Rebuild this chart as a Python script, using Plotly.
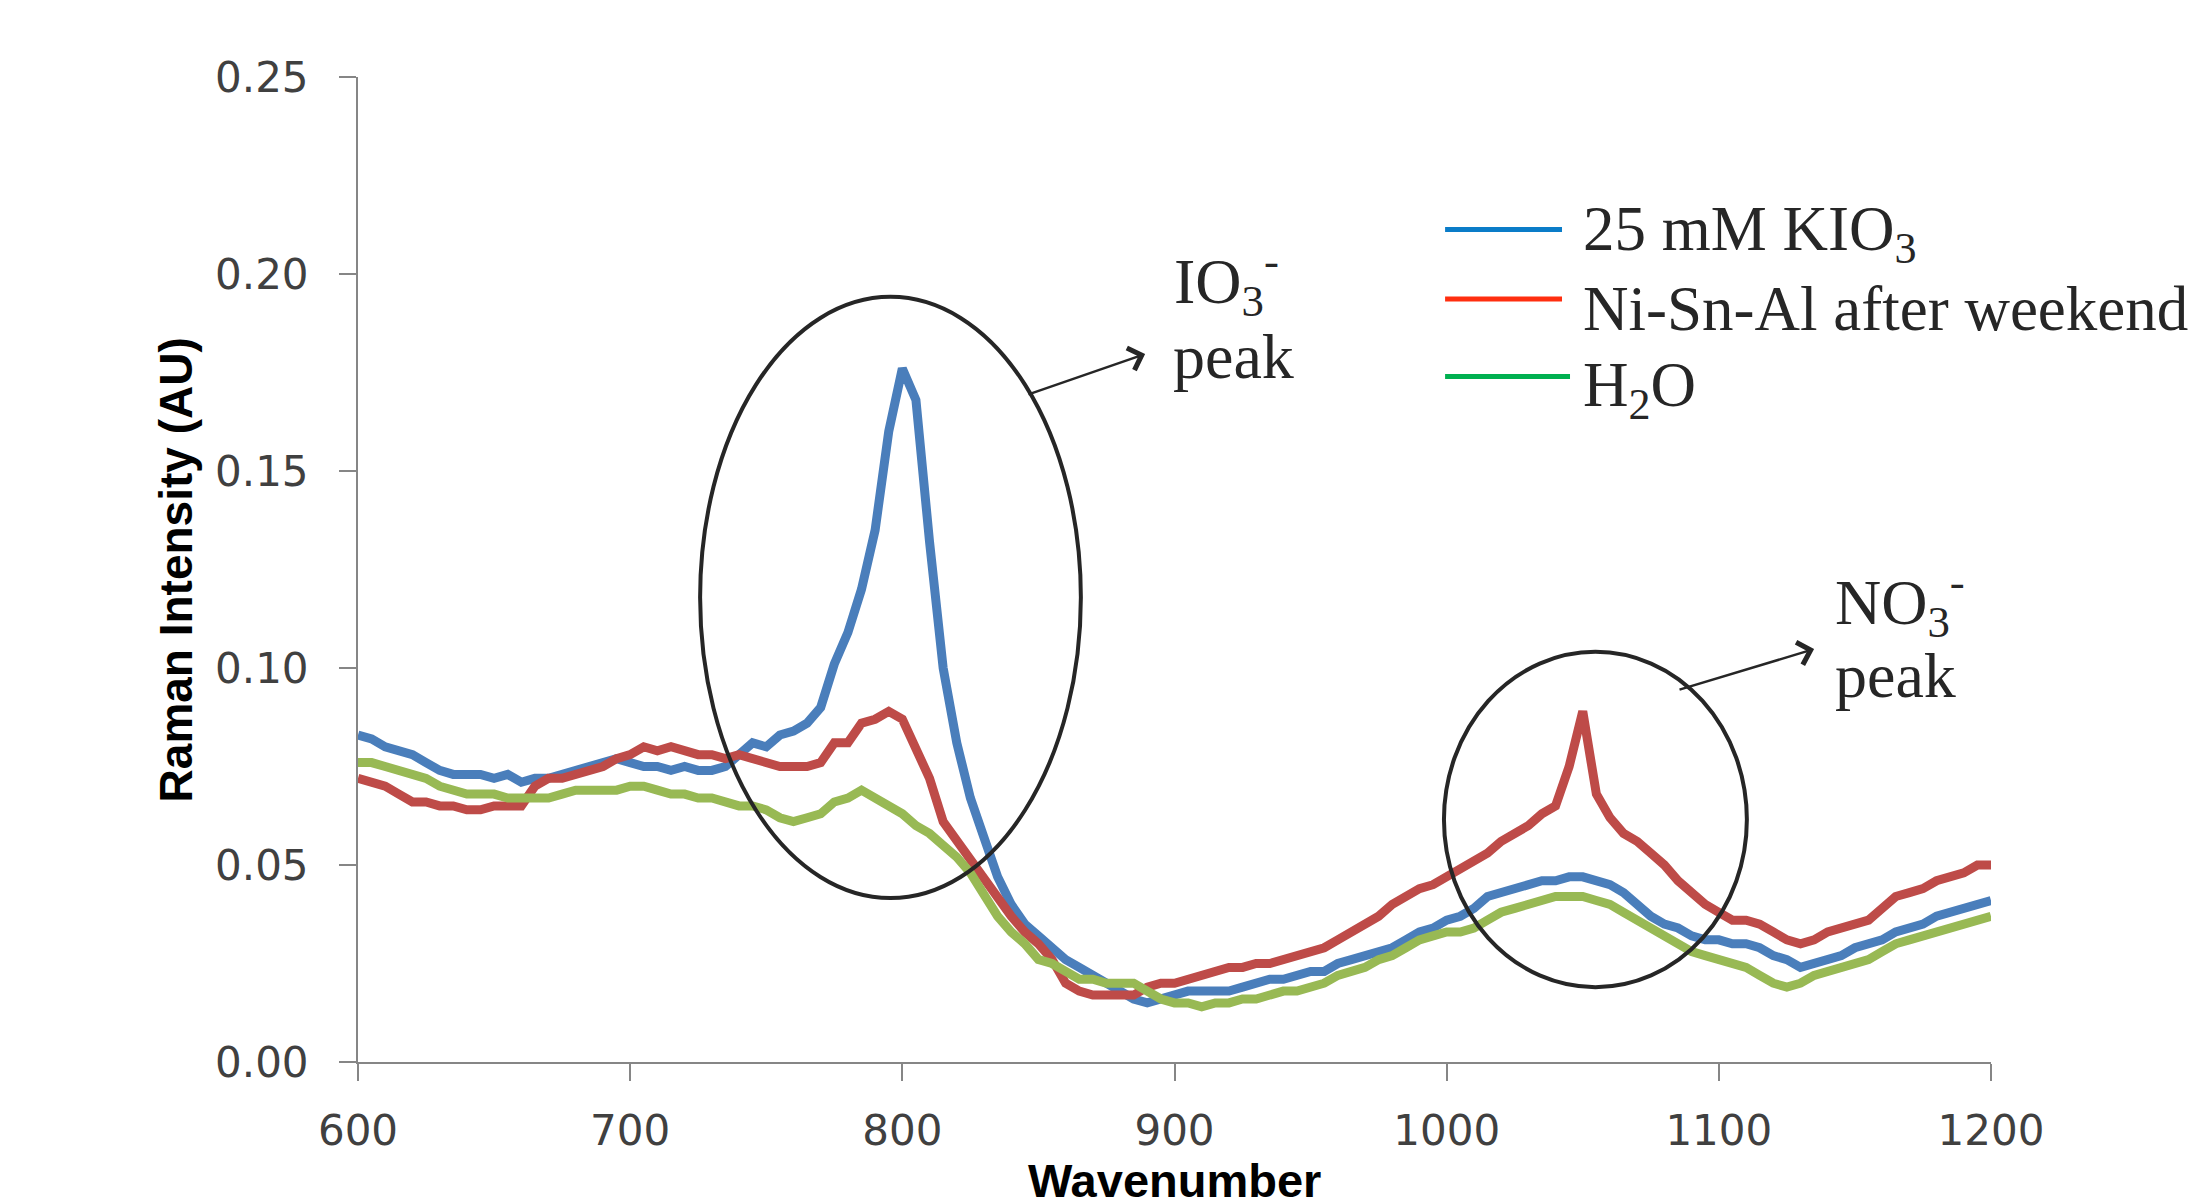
import plotly.graph_objects as go

# ---------------- data ----------------
wavenumber = [
    600, 605, 610, 615, 620, 625, 630, 635, 640, 645,
    650, 655, 660, 665, 670, 675, 680, 685, 690, 695,
    700, 705, 710, 715, 720, 725, 730, 735, 740, 745,
    750, 755, 760, 765, 770, 775, 780, 785, 790, 795,
    800, 805, 810, 815, 820, 825, 830, 835, 840, 845,
    850, 855, 860, 865, 870, 875, 880, 885, 890, 895,
    900, 905, 910, 915, 920, 925, 930, 935, 940, 945,
    950, 955, 960, 965, 970, 975, 980, 985, 990, 995,
    1000, 1005, 1010, 1015, 1020, 1025, 1030, 1035, 1040, 1045,
    1050, 1055, 1060, 1065, 1070, 1075, 1080, 1085, 1090, 1095,
    1100, 1105, 1110, 1115, 1120, 1125, 1130, 1135, 1140, 1145,
    1150, 1155, 1160, 1165, 1170, 1175, 1180, 1185, 1190, 1195,
    1200,
]

kio3 = [
    0.083, 0.082, 0.080, 0.079, 0.078, 0.076, 0.074, 0.073, 0.073, 0.073,
    0.072, 0.073, 0.071, 0.072, 0.072, 0.073, 0.074, 0.075, 0.076, 0.077,
    0.076, 0.075, 0.075, 0.074, 0.075, 0.074, 0.074, 0.075, 0.078, 0.081,
    0.080, 0.083, 0.084, 0.086, 0.090, 0.101, 0.109, 0.120, 0.135, 0.160,
    0.176, 0.168, 0.132, 0.100, 0.081, 0.067, 0.057, 0.047, 0.040, 0.035,
    0.032, 0.029, 0.026, 0.024, 0.022, 0.020, 0.018, 0.016, 0.015, 0.016,
    0.017, 0.018, 0.018, 0.018, 0.018, 0.019, 0.020, 0.021, 0.021, 0.022,
    0.023, 0.023, 0.025, 0.026, 0.027, 0.028, 0.029, 0.031, 0.033, 0.034,
    0.036, 0.037, 0.039, 0.042, 0.043, 0.044, 0.045, 0.046, 0.046, 0.047,
    0.047, 0.046, 0.045, 0.043, 0.040, 0.037, 0.035, 0.034, 0.032, 0.031,
    0.031, 0.030, 0.030, 0.029, 0.027, 0.026, 0.024, 0.025, 0.026, 0.027,
    0.029, 0.030, 0.031, 0.033, 0.034, 0.035, 0.037, 0.038, 0.039, 0.040,
    0.041,
]

nisnal = [
    0.072, 0.071, 0.070, 0.068, 0.066, 0.066, 0.065, 0.065, 0.064, 0.064,
    0.065, 0.065, 0.065, 0.070, 0.072, 0.072, 0.073, 0.074, 0.075, 0.077,
    0.078, 0.080, 0.079, 0.080, 0.079, 0.078, 0.078, 0.077, 0.078, 0.077,
    0.076, 0.075, 0.075, 0.075, 0.076, 0.081, 0.081, 0.086, 0.087, 0.089,
    0.087, 0.080, 0.072, 0.061, 0.056, 0.052, 0.047, 0.041, 0.037, 0.033,
    0.030, 0.026, 0.020, 0.018, 0.017, 0.017, 0.017, 0.017, 0.019, 0.020,
    0.020, 0.021, 0.022, 0.023, 0.024, 0.024, 0.025, 0.025, 0.026, 0.027,
    0.028, 0.029, 0.031, 0.033, 0.035, 0.037, 0.040, 0.042, 0.044, 0.045,
    0.047, 0.049, 0.051, 0.053, 0.056, 0.058, 0.060, 0.063, 0.065, 0.075,
    0.089, 0.068, 0.062, 0.058, 0.056, 0.053, 0.050, 0.046, 0.043, 0.040,
    0.038, 0.036, 0.036, 0.035, 0.033, 0.031, 0.030, 0.031, 0.033, 0.034,
    0.035, 0.036, 0.039, 0.042, 0.043, 0.044, 0.046, 0.047, 0.048, 0.050,
    0.050,
]

water = [
    0.076, 0.076, 0.075, 0.074, 0.073, 0.072, 0.070, 0.069, 0.068, 0.068,
    0.068, 0.067, 0.067, 0.067, 0.067, 0.068, 0.069, 0.069, 0.069, 0.069,
    0.070, 0.070, 0.069, 0.068, 0.068, 0.067, 0.067, 0.066, 0.065, 0.065,
    0.064, 0.062, 0.061, 0.062, 0.063, 0.066, 0.067, 0.069, 0.067, 0.065,
    0.063, 0.060, 0.058, 0.055, 0.052, 0.048, 0.042, 0.037, 0.033, 0.030,
    0.026, 0.025, 0.023, 0.021, 0.021, 0.020, 0.020, 0.020, 0.018, 0.016,
    0.015, 0.015, 0.014, 0.015, 0.015, 0.016, 0.016, 0.017, 0.018, 0.018,
    0.019, 0.020, 0.022, 0.023, 0.024, 0.026, 0.027, 0.029, 0.031, 0.032,
    0.033, 0.033, 0.034, 0.036, 0.038, 0.039, 0.040, 0.041, 0.042, 0.042,
    0.042, 0.041, 0.040, 0.038, 0.036, 0.034, 0.032, 0.030, 0.028, 0.027,
    0.026, 0.025, 0.024, 0.022, 0.020, 0.019, 0.020, 0.022, 0.023, 0.024,
    0.025, 0.026, 0.028, 0.030, 0.031, 0.032, 0.033, 0.034, 0.035, 0.036,
    0.037,
]

series_names = ["25 mM KIO<sub>3</sub>", "Ni-Sn-Al after weekend", "H<sub>2</sub>O"]
line_colors = ["#4A7EBB", "#BE4B48", "#98B954"]
legend_colors = ["#0A7CC8", "#FF2E0F", "#00B050"]

x_ticks = [600, 700, 800, 900, 1000, 1100, 1200]
y_ticks = [0.00, 0.05, 0.10, 0.15, 0.20, 0.25]

# ---------------- figure ----------------
fig = go.Figure()
for name, ys, col in zip(series_names, [kio3, nisnal, water], line_colors):
    fig.add_trace(go.Scatter(
        x=wavenumber, y=ys, mode="lines", name=name,
        line=dict(color=col, width=9), showlegend=False,
    ))

AX = "#868686"
TICKFONT = dict(family="DejaVu Sans", size=42, color="#404040")
fig.update_layout(
    width=2188, height=1189,
    margin=dict(l=350, r=205, t=69, b=135),
    paper_bgcolor="white", plot_bgcolor="white",
    xaxis=dict(range=[600, 1200], tickvals=x_ticks, showgrid=False, zeroline=False,
               showline=True, linecolor=AX, linewidth=2,
               ticks="outside", ticklen=17, tickwidth=2, tickcolor=AX,
               tickfont=TICKFONT, ticklabelstandoff=14),
    yaxis=dict(range=[0, 0.25], tickvals=y_ticks, tickformat=".2f",
               showgrid=False, zeroline=False,
               showline=True, linecolor=AX, linewidth=2,
               ticks="outside", ticklen=17, tickwidth=2, tickcolor=AX,
               tickfont=TICKFONT, ticklabelstandoff=22),
)

fig.add_annotation(text="<b>Raman Intensity (AU)</b>", xref="paper", yref="paper",
                   x=-0.1115, y=0.5, textangle=-90, showarrow=False,
                   xanchor="center", yanchor="middle",
                   font=dict(family="Liberation Sans", size=46, color="#000000"))
fig.add_annotation(text="<b>Wavenumber</b>", xref="paper", yref="paper",
                   x=0.5, y=-0.1198, showarrow=False,
                   xanchor="center", yanchor="middle",
                   font=dict(family="Liberation Sans", size=47, color="#000000"))

# ellipses around peaks
ELL = "#262626"
fig.add_shape(type="circle", xref="x", yref="y", x0=725.7, x1=865.6, y0=0.0416, y1=0.1942,
              line=dict(color=ELL, width=4))
fig.add_shape(type="circle", xref="x", yref="y", x0=999.0, x1=1110.3, y0=0.0190, y1=0.1041,
              line=dict(color=ELL, width=4))

# arrows
for (tx, ty, hx, hy) in [(845.8, 0.1693, 889.2, 0.1797), (1085.0, 0.0944, 1135.0, 0.1048)]:
    fig.add_annotation(x=hx, y=hy, ax=tx, ay=ty, xref="x", yref="y", axref="x", ayref="y",
                       text="", showarrow=True, arrowhead=4, arrowsize=1.8,
                       arrowwidth=2.5, arrowcolor=ELL)

SERIF = dict(family="Liberation Serif", size=64, color="#262626")
for txt, x, y in [("IO<sub>3</sub><sup>-</sup>", 0.4985, 0.7924), ("peak", 0.4979, 0.7162),
                  ("NO<sub>3</sub><sup>-</sup>", 0.9033, 0.4675), ("peak", 0.9033, 0.3924)]:
    fig.add_annotation(text=txt, xref="paper", yref="paper", x=x, y=y, showarrow=False,
                       xanchor="left", yanchor="middle", font=SERIF)

# custom legend
leg_line_y = [0.8452, 0.7746, 0.6959]
leg_line_x1 = [0.7373, 0.7373, 0.7422]
leg_text_y = [0.8411, 0.7640, 0.6827]
for name, col, ly, lx1, ty in zip(series_names, legend_colors, leg_line_y, leg_line_x1, leg_text_y):
    fig.add_shape(type="line", xref="paper", yref="paper", x0=0.6657, x1=lx1, y0=ly, y1=ly,
                  line=dict(color=col, width=5))
    fig.add_annotation(text=name, xref="paper", yref="paper", x=0.7490, y=ty, showarrow=False,
                       xanchor="left", yanchor="middle",
                       font=dict(family="Liberation Serif", size=63, color="#262626"))

fig.write_html("out.html")
